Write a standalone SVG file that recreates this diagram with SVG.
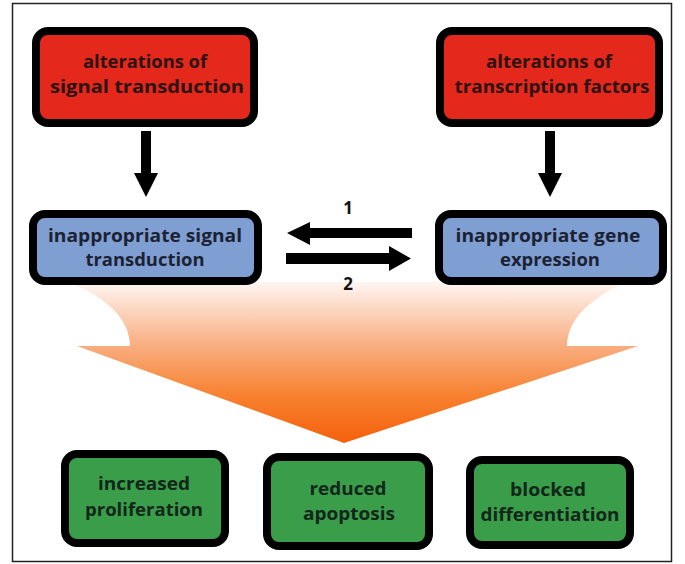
<svg xmlns="http://www.w3.org/2000/svg" width="685" height="564" viewBox="0 0 685 564">
<defs>
<style>
.box{stroke:#000;stroke-width:8;}
.red{fill:#e4281c;}
.blue{fill:#7f9fd2;}
.green{fill:#3a9d49;}
.t{font-family:"Open Sans","Liberation Sans",sans-serif;font-weight:700;font-size:18px;text-anchor:middle;}
.tr{fill:#2b1411;}
.tb{fill:#1c2232;}
.tg{fill:#12261a;}
.num{font-family:"Open Sans","Liberation Sans",sans-serif;font-weight:700;font-size:17px;text-anchor:middle;fill:#111;}
</style>
<linearGradient id="fun" gradientUnits="userSpaceOnUse" x1="0" y1="284" x2="0" y2="443">
<stop offset="0" stop-color="#fef4ef"/>
<stop offset="0.35" stop-color="#f9b38a"/>
<stop offset="0.7" stop-color="#f7812f"/>
<stop offset="1" stop-color="#f5600c"/>
</linearGradient>
</defs>
<rect x="12.5" y="3.5" width="659" height="558" fill="#fff" stroke="#222" stroke-width="1.5"/>
<g id="funnel">
<path d="M68,282 L627,282 C590,298 567,320 567,346 L638,346 L344,443 L77,346 L130,346 C130,320 108,298 68,282 Z" fill="url(#fun)"/>
</g>
<g id="connectors" fill="#000">
<path d="M141,131 H151 V173 H158 L146,197 L134,173 H141 Z"/>
<path d="M545,131 H555 V173 H562 L550,197 L538,173 H545 Z"/>
<path d="M412,228 V238 H310 V245 L287,233 L310,222 V228 Z"/>
<path d="M286,253 V264 H389 V271 L411,258.5 L389,246 V253 Z"/>
<text class="num" x="348" y="214">1</text>
<text class="num" x="348" y="290">2</text>
</g>
<g id="alt-signal">
<rect class="box red" x="36" y="31" width="218" height="92" rx="12"/>
<text class="t tr" x="145" y="67.5" textLength="124" lengthAdjust="spacingAndGlyphs">alterations of</text>
<text class="t tr" x="147" y="92.5" textLength="194" lengthAdjust="spacingAndGlyphs">signal transduction</text>
</g>
<g id="alt-tf">
<rect class="box red" x="440" y="31" width="219" height="92" rx="12"/>
<text class="t tr" x="549" y="67.5" textLength="126" lengthAdjust="spacingAndGlyphs">alterations of</text>
<text class="t tr" x="552" y="92.5" textLength="195" lengthAdjust="spacingAndGlyphs">transcription factors</text>
</g>
<g id="inapp-signal">
<rect class="box blue" x="33" y="214" width="225" height="67" rx="12"/>
<text class="t tb" x="145" y="241.5" textLength="194" lengthAdjust="spacingAndGlyphs">inappropriate signal</text>
<text class="t tb" x="145" y="266" textLength="119" lengthAdjust="spacingAndGlyphs">transduction</text>
</g>
<g id="inapp-gene">
<rect class="box blue" x="439" y="214" width="224" height="67" rx="12"/>
<text class="t tb" x="548" y="241.5" textLength="185" lengthAdjust="spacingAndGlyphs">inappropriate gene</text>
<text class="t tb" x="550" y="266" textLength="100" lengthAdjust="spacingAndGlyphs">expression</text>
</g>
<g id="prolif">
<rect class="box green" x="65" y="454" width="160" height="89" rx="12"/>
<text class="t tg" x="144" y="490" textLength="92" lengthAdjust="spacingAndGlyphs">increased</text>
<text class="t tg" x="144" y="515.5" textLength="118" lengthAdjust="spacingAndGlyphs">proliferation</text>
</g>
<g id="apoptosis">
<rect class="box green" x="267" y="457" width="162" height="89" rx="12"/>
<text class="t tg" x="348" y="494.5" textLength="77" lengthAdjust="spacingAndGlyphs">reduced</text>
<text class="t tg" x="349" y="520" textLength="92" lengthAdjust="spacingAndGlyphs">apoptosis</text>
</g>
<g id="differentiation">
<rect class="box green" x="470" y="460" width="160" height="85" rx="12"/>
<text class="t tg" x="548" y="495.5" textLength="76" lengthAdjust="spacingAndGlyphs">blocked</text>
<text class="t tg" x="550" y="521" textLength="139" lengthAdjust="spacingAndGlyphs">differentiation</text>
</g>
</svg>
